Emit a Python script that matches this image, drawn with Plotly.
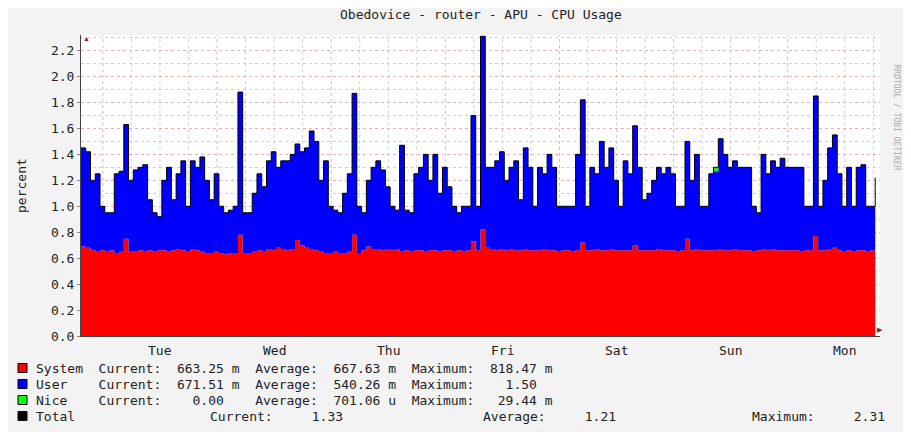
import plotly.graph_objects as go
import pandas as pd

start = pd.Timestamp("2024-01-01 19:24")
total = [1.45,1.42,1.2,1.25,1.0,0.95,0.95,1.25,1.27,1.63,1.2,1.28,1.3,1.32,1.05,0.95,0.92,1.2,1.3,1.05,1.25,1.35,1.0,1.35,
         1.3,1.38,1.2,1.05,1.25,1.0,0.95,0.97,1.0,1.88,0.95,0.95,1.1,1.25,1.15,1.35,1.42,1.3,1.35,1.35,1.4,1.48,1.42,1.45,
         1.58,1.5,1.2,1.35,1.0,0.97,0.95,1.1,1.25,1.87,1.0,0.95,1.2,1.3,1.35,1.28,1.15,1.0,0.97,1.47,0.97,0.95,1.25,1.3,
         1.4,1.2,1.4,1.1,1.3,1.15,1.0,0.95,1.0,1.0,1.7,1.0,2.31,1.3,1.3,1.35,1.42,1.2,1.3,1.35,1.05,1.45,1.3,1.0,
         1.3,1.25,1.4,1.3,1.0,1.0,1.0,1.0,1.4,1.82,1.0,1.3,1.25,1.5,1.3,1.45,1.2,1.0,1.35,1.25,1.62,1.3,1.05,1.1,
         1.2,1.3,1.25,1.3,1.25,1.0,1.0,1.5,1.2,1.4,1.0,1.0,1.25,1.3,1.52,1.4,1.3,1.35,1.3,1.3,1.3,1.0,0.95,1.4,
         1.25,1.35,1.3,1.37,1.3,1.3,1.3,1.3,1.0,1.0,1.85,1.0,1.2,1.45,1.55,1.25,1.0,1.3,1.0,1.3,1.32,1.0,1.0,1.22]
system = [0.69,0.68,0.66,0.65,0.66,0.65,0.66,0.64,0.65,0.75,0.65,0.65,0.66,0.65,0.66,0.65,0.66,0.66,0.65,0.66,0.67,0.66,0.65,0.67,
          0.66,0.65,0.64,0.64,0.65,0.64,0.63,0.64,0.64,0.78,0.64,0.64,0.65,0.66,0.65,0.67,0.66,0.68,0.67,0.66,0.67,0.74,0.70,0.68,
          0.67,0.66,0.65,0.64,0.64,0.65,0.64,0.64,0.65,0.78,0.64,0.66,0.69,0.67,0.67,0.66,0.67,0.66,0.67,0.65,0.66,0.65,0.66,0.66,
          0.65,0.66,0.66,0.65,0.66,0.66,0.65,0.66,0.65,0.66,0.73,0.66,0.82,0.68,0.67,0.66,0.67,0.66,0.67,0.66,0.66,0.67,0.66,0.66,
          0.66,0.67,0.66,0.66,0.65,0.66,0.66,0.65,0.66,0.72,0.66,0.66,0.67,0.66,0.66,0.67,0.66,0.66,0.66,0.66,0.70,0.66,0.66,0.66,
          0.66,0.67,0.66,0.66,0.66,0.65,0.66,0.75,0.66,0.67,0.66,0.66,0.66,0.66,0.67,0.66,0.66,0.67,0.66,0.66,0.66,0.65,0.66,0.67,
          0.66,0.67,0.66,0.66,0.66,0.66,0.66,0.65,0.66,0.66,0.77,0.66,0.66,0.67,0.68,0.66,0.65,0.66,0.65,0.66,0.66,0.65,0.66,0.66]
nice = [0.0]*133 + [0.03] + [0.0]*34
day_labels = ["Tue","Wed","Thu","Fri","Sat","Sun","Mon"]
legend_rows = [
    ("#FF0000","System  Current:  663.25 m  Average:  667.63 m  Maximum:  818.47 m"),
    ("#0000FF","User    Current:  671.51 m  Average:  540.26 m  Maximum:    1.50"),
    ("#00FF00","Nice    Current:    0.00    Average:  701.06 u  Maximum:   29.44 m"),
    ("#000000","Total"),
]

times = [start + pd.Timedelta(hours=i) for i in range(len(total))]
user = [t - s - n for t, s, n in zip(total, system, nice)]
end = start + pd.Timedelta(hours=len(total))
FONT = "DejaVu Sans Mono"

fig = go.Figure()
common = dict(x=times, mode="lines", line=dict(width=0, shape="hv"), stackgroup="a", hoverinfo="skip")
fig.add_trace(go.Scatter(y=system, fillcolor="#FF0000", **common))
fig.add_trace(go.Scatter(y=user, fillcolor="#0000FF", **common))
fig.add_trace(go.Scatter(y=nice, fillcolor="#00FF00", **common))
fig.add_trace(go.Scatter(x=times, y=total, mode="lines", line=dict(color="black", width=1, shape="hv")))

shapes = []
t0 = pd.Timestamp("2024-01-02 00:00")
for k in range(-1, 29):
    t = t0 + pd.Timedelta(hours=6 * k)
    if start < t < end:
        major = (k % 4 == 0)
        shapes.append(dict(type="line", xref="x", yref="paper", x0=t, x1=t, y0=0, y1=1, layer="below",
                           line=dict(color="rgba(230,120,120,0.6)" if major else "rgba(180,180,180,0.6)", width=1, dash="dot")))

ann = []
for i, d in enumerate(day_labels):
    ann.append(dict(x=t0 + pd.Timedelta(hours=12 + 24 * i), y=-0.015, xref="x", yref="paper", text=d, showarrow=False,
                    yanchor="top", font=dict(family=FONT, size=13, color="#222")))
ann.append(dict(x=0.5, y=(336 - 14) / 301, xref="paper", yref="paper", text="Obedovice - router - APU - CPU Usage",
                showarrow=False, font=dict(family=FONT, size=13, color="#222"), xanchor="center", yanchor="middle"))
ann.append(dict(x=(12 - 81) / 799, y=0.5, xref="paper", yref="paper", text="percent", textangle=-90, showarrow=False,
                font=dict(family=FONT, size=13, color="#222")))
ann.append(dict(x=(903 - 81) / 799, y=(336 - 62) / 301, xref="paper", yref="paper", text="RRDTOOL / TOBI OETIKER",
                textangle=90, showarrow=False, font=dict(family=FONT, size=8, color="#aaa")))
for r, (c, txt) in enumerate(legend_rows):
    py = 368 + 16 * r
    ann.append(dict(x=(34 - 81) / 799, y=(336 - py) / 301, xref="paper", yref="paper", text=txt.replace(" ", "\u00a0"),
                    showarrow=False, xanchor="left", yanchor="middle", font=dict(family=FONT, size=13, color="#222")))
    shapes.append(dict(type="rect", xref="paper", yref="paper", x0=(18 - 81) / 799, x1=(27 - 81) / 799,
                       y0=(336 - py - 4.5) / 301, y1=(336 - py + 4.5) / 301, fillcolor=c, line=dict(color="black", width=1)))
for px, lab in [(208, "Current:     1.33"), (481, "Average:     1.21"), (750, "Maximum:     2.31")]:
    ann.append(dict(x=(px - 81) / 799, y=(336 - 416) / 301, xref="paper", yref="paper", text=lab.replace(" ", "\u00a0"),
                    showarrow=False, xanchor="left", yanchor="middle", font=dict(family=FONT, size=13, color="#222")))
ann.append(dict(x=1.006, y=0, xref="paper", yref="paper", text="▶", showarrow=False, font=dict(size=7, color="#8b1a1a")))
ann.append(dict(x=0, y=1.01, xref="paper", yref="paper", text="▲", showarrow=False, font=dict(size=7, color="#8b1a1a")))

fig.update_layout(
    width=903, height=424, margin=dict(l=73, r=31, t=27, b=96),
    paper_bgcolor="#F3F3F3", plot_bgcolor="white", showlegend=False,
    annotations=ann, shapes=shapes,
    xaxis=dict(range=[start, end], showgrid=False, showticklabels=False, ticks="", zeroline=False,
               showline=True, linecolor="#444", linewidth=1),
    yaxis=dict(range=[0, 2.32], dtick=0.2, tickformat=".1f", showgrid=True, gridcolor="rgba(230,120,120,0.6)",
               griddash="dot", zeroline=False, showline=True, linecolor="#444", linewidth=1,
               tickfont=dict(family=FONT, size=13, color="#222"), ticks="outside", ticklen=3, tickcolor="#888",
               minor=dict(dtick=0.1, showgrid=True, gridcolor="rgba(180,180,180,0.6)", griddash="dot")),
)
fig.write_html("out.html")
